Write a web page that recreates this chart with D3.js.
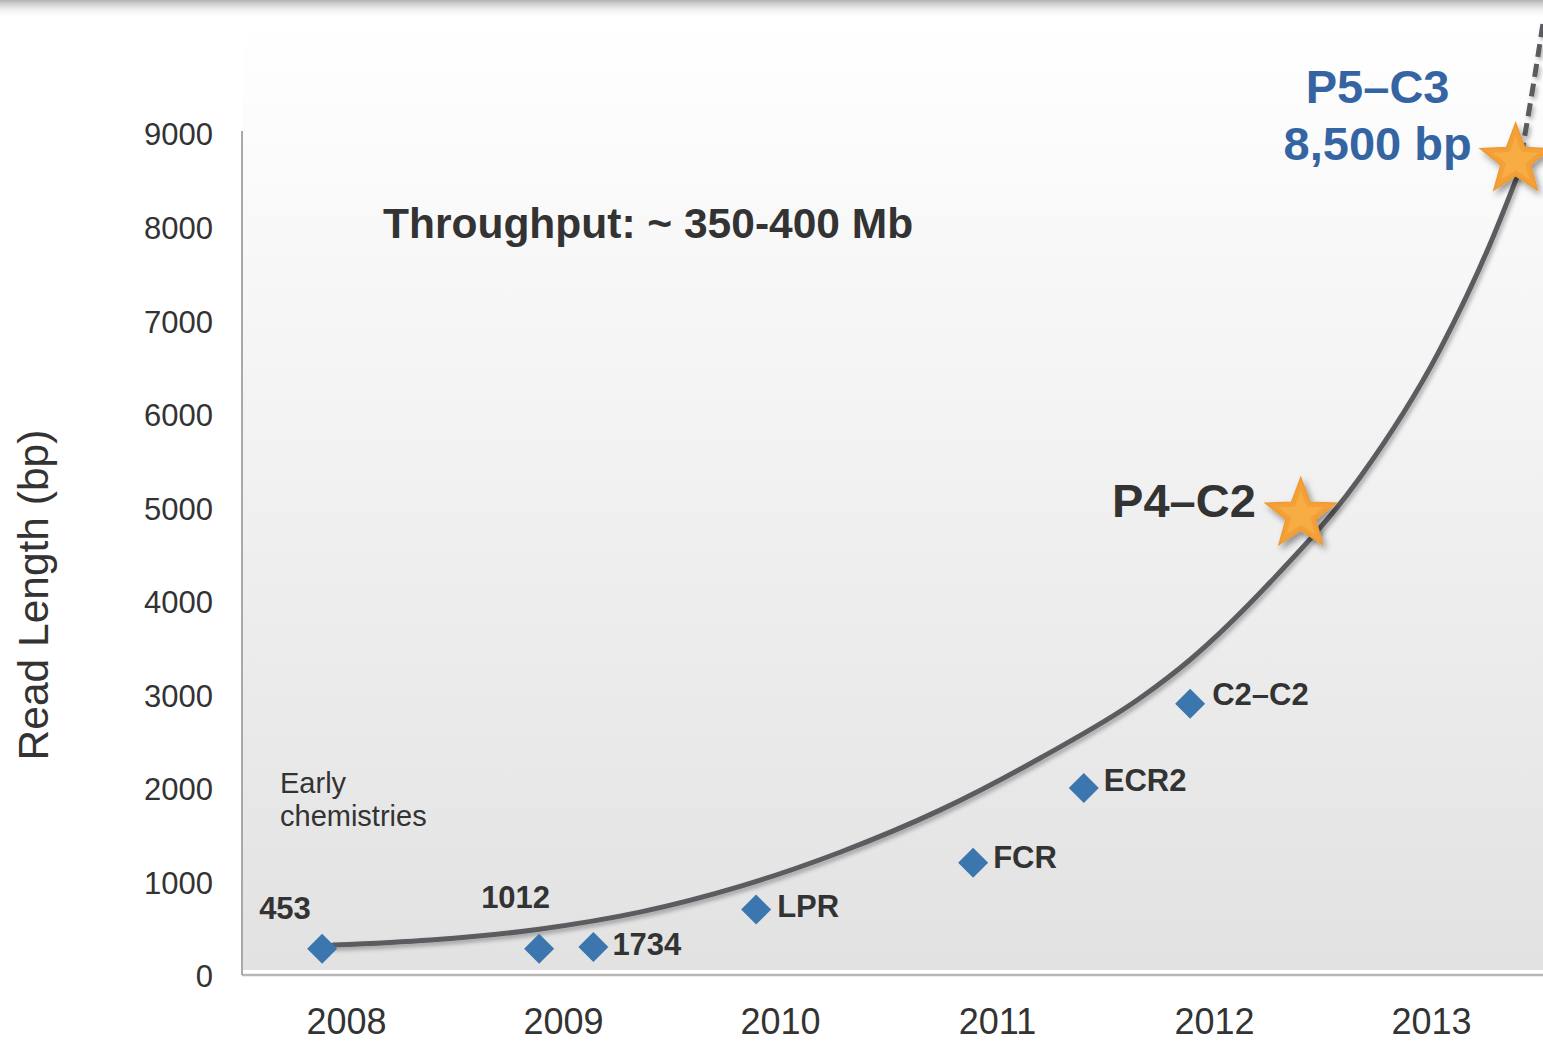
<!DOCTYPE html>
<html>
<head>
<meta charset="utf-8">
<script src="https://cdn.jsdelivr.net/npm/d3@7/dist/d3.min.js"></script>
<style>
  html, body { margin: 0; padding: 0; background: #fff; }
  svg { display: block; }
  text { font-family: "Liberation Sans", Arial, sans-serif; }
</style>
</head>
<body>
<div id="chart"></div>
<script>
// Data
const years = [2008, 2009, 2010, 2011, 2012, 2013];
const yTicks = [0, 1000, 2000, 3000, 4000, 5000, 6000, 7000, 8000, 9000];

const chemNames = ["453", "1012", "1734", "LPR", "FCR", "ECR2", "C2–C2"];
const chemYear = [2007.89, 2008.89, 2009.14, 2009.89, 2010.89, 2011.40, 2011.89];
const chemReadLength = [280, 280, 300, 700, 1200, 2000, 2900];

const starNames = ["P4–C2", "P5–C3"];
const starYear = [2012.40, 2013.39];
const starReadLength = [4920, 8710];

const trendYear = [2007.94, 2008.39, 2008.89, 2009.36, 2009.82, 2010.28, 2010.74, 2011.20,
                   2011.66, 2011.89, 2012.26, 2012.67, 2013.04, 2013.27, 2013.40];
const trendReadLength = [320, 375, 490, 675, 950, 1315, 1765, 2320,
                         2960, 3370, 4200, 5310, 6680, 7800, 8550];
const projYear = [2013.40, 2013.46, 2013.52];
const projReadLength = [8550, 9350, 10230];

// label placement (px offsets from marker)
const chemLabelOffset = [[-63, -30], [-58, -41], [19, 8], [21, 7], [20, 5], [20, 3], [22, 1]];

(function draw() {
  const W = 1543, H = 1042;
  const svg = d3.select("#chart").append("svg")
      .attr("width", W).attr("height", H);

  const x = d3.scaleLinear().domain([2008, 2013]).range([346, 1431]);
  const y = d3.scaleLinear().domain([0, 9000]).range([975, 133]);

  const defs = svg.append("defs");
  const bg = defs.append("linearGradient").attr("id", "bg")
      .attr("x1", 0).attr("y1", 0).attr("x2", 0).attr("y2", 1);
  bg.append("stop").attr("offset", "0%").attr("stop-color", "#ffffff");
  bg.append("stop").attr("offset", "100%").attr("stop-color", "#e2e2e2");

  const topShade = defs.append("linearGradient").attr("id", "topShade")
      .attr("x1", 0).attr("y1", 0).attr("x2", 0).attr("y2", 1);
  topShade.append("stop").attr("offset", "0%").attr("stop-color", "#b2b2b2");
  topShade.append("stop").attr("offset", "100%").attr("stop-color", "#ffffff").attr("stop-opacity", 0);

  const lineShadow = defs.append("filter").attr("id", "lineShadow")
      .attr("x", "-10%").attr("y", "-10%").attr("width", "120%").attr("height", "120%");
  lineShadow.append("feDropShadow").attr("dx", 2).attr("dy", 3).attr("stdDeviation", 2)
      .attr("flood-color", "#000").attr("flood-opacity", 0.3);

  const starShadow = defs.append("filter").attr("id", "starShadow")
      .attr("x", "-50%").attr("y", "-50%").attr("width", "200%").attr("height", "200%");
  starShadow.append("feDropShadow").attr("dx", 3).attr("dy", 4).attr("stdDeviation", 3)
      .attr("flood-color", "#000").attr("flood-opacity", 0.4);

  // plot background
  svg.append("rect")
      .attr("x", 243).attr("y", 20).attr("width", W - 243).attr("height", 950)
      .attr("fill", "url(#bg)");

  // top shade band
  svg.append("rect")
      .attr("x", 0).attr("y", 0).attr("width", W).attr("height", 18)
      .attr("fill", "url(#topShade)");

  // axes lines
  svg.append("line")
      .attr("x1", 242).attr("x2", W).attr("y1", 975).attr("y2", 975)
      .attr("stroke", "#b6b6b6").attr("stroke-width", 2.5);
  svg.append("line")
      .attr("x1", 242).attr("x2", 242).attr("y1", 131).attr("y2", 975)
      .attr("stroke", "#a8a8a8").attr("stroke-width", 2);

  // y axis
  const yAxis = svg.append("g")
      .attr("transform", "translate(242,0)")
      .call(d3.axisLeft(y).tickValues(yTicks).tickSize(0).tickPadding(29).tickFormat(d3.format("d")));
  yAxis.select(".domain").remove();
  yAxis.selectAll("text")
      .attr("y", 2)
      .attr("font-size", 31).attr("fill", "#333")
      .style("font-family", "'Liberation Sans', Arial, sans-serif");

  // x axis
  const xAxis = svg.append("g")
      .attr("transform", "translate(0,975)")
      .call(d3.axisBottom(x).tickValues(years).tickSize(0).tickFormat(d3.format("d")));
  xAxis.select(".domain").remove();
  xAxis.selectAll("text")
      .attr("y", 59).attr("dy", 0)
      .attr("font-size", 36).attr("fill", "#333")
      .style("font-family", "'Liberation Sans', Arial, sans-serif");

  // y axis title
  svg.append("text")
      .attr("transform", "translate(48,595) rotate(-90)")
      .attr("text-anchor", "middle")
      .attr("font-size", 42.5).attr("fill", "#333")
      .text("Read Length (bp)");

  // annotations
  svg.append("text")
      .attr("x", 383).attr("y", 238)
      .attr("font-size", 42.5).attr("font-weight", "bold").attr("fill", "#333")
      .text("Throughput: ~ 350-400 Mb");

  const early = svg.append("text")
      .attr("font-size", 29).attr("fill", "#333");
  early.append("tspan").attr("x", 280).attr("y", 793).text("Early");
  early.append("tspan").attr("x", 280).attr("y", 826).text("chemistries");

  // trend curve
  const trend = trendYear.map((t, i) => [t, trendReadLength[i]]);
  const proj = projYear.map((t, i) => [t, projReadLength[i]]);
  const line = d3.line()
      .x(d => x(d[0])).y(d => y(d[1]))
      .curve(d3.curveMonotoneX);

  svg.append("path")
      .datum(trend)
      .attr("d", line)
      .attr("fill", "none")
      .attr("stroke", "#5b5b60")
      .attr("stroke-width", 5)
      .attr("stroke-linecap", "round")
      .attr("filter", "url(#lineShadow)");

  svg.append("path")
      .datum(proj)
      .attr("d", line)
      .attr("fill", "none")
      .attr("stroke", "#5b5b60")
      .attr("stroke-width", 5)
      .attr("stroke-dasharray", "13,7")
      .attr("filter", "url(#lineShadow)");

  // chemistry diamonds
  const chem = chemNames.map((n, i) => ({ name: n, t: chemYear[i], v: chemReadLength[i], off: chemLabelOffset[i] }));
  const diamond = d3.symbol().type(d3.symbolSquare).size(450);

  const cg = svg.append("g");
  cg.selectAll("path")
      .data(chem)
      .enter()
      .append("path")
      .attr("d", diamond)
      .attr("transform", d => `translate(${x(d.t)},${y(d.v)}) rotate(45)`)
      .attr("fill", "#3b76ae");

  cg.selectAll("text")
      .data(chem)
      .enter()
      .append("text")
      .attr("x", d => x(d.t) + d.off[0])
      .attr("y", d => y(d.v) + d.off[1])
      .attr("font-size", 31).attr("font-weight", "bold").attr("fill", "#333")
      .text(d => d.name);

  // stars
  function starPath(R, ratio) {
    const pts = d3.range(10).map(i => {
      const a = -Math.PI / 2 + i * Math.PI / 5;
      const r = i % 2 === 0 ? R : R * ratio;
      return [r * Math.cos(a), r * Math.sin(a)];
    });
    return d3.line()(pts) + "Z";
  }

  const stars = starNames.map((n, i) => ({ name: n, t: starYear[i], v: starReadLength[i] }));
  const sg = svg.append("g");
  const starNodes = sg.selectAll("g")
      .data(stars)
      .enter()
      .append("g")
      .attr("transform", d => `translate(${x(d.t)},${y(d.v)})`);

  starNodes.append("path")
      .attr("d", starPath(37, 0.42))
      .attr("fill", "#f3a037")
      .attr("stroke", "#ee9a30")
      .attr("stroke-width", 1.5)
      .attr("filter", "url(#starShadow)");
  starNodes.append("path")
      .attr("d", starPath(24, 0.42))
      .attr("fill", "#f7ad43");

  // star labels
  const p4 = stars[0];
  svg.append("text")
      .attr("x", x(p4.t) - 45).attr("y", y(p4.v) + 2)
      .attr("text-anchor", "end")
      .attr("font-size", 47).attr("font-weight", "bold").attr("fill", "#333")
      .text(p4.name);

  const p5 = stars[1];
  const p5Label = svg.append("text")
      .attr("text-anchor", "middle")
      .attr("font-size", 47).attr("font-weight", "bold").attr("fill", "#3464a2");
  p5Label.append("tspan").attr("x", x(p5.t) - 138).attr("y", y(p5.v) - 57).text(p5.name);
  p5Label.append("tspan").attr("x", x(p5.t) - 138).attr("y", y(p5.v)).text("8,500 bp");
})();
</script>
</body>
</html>
